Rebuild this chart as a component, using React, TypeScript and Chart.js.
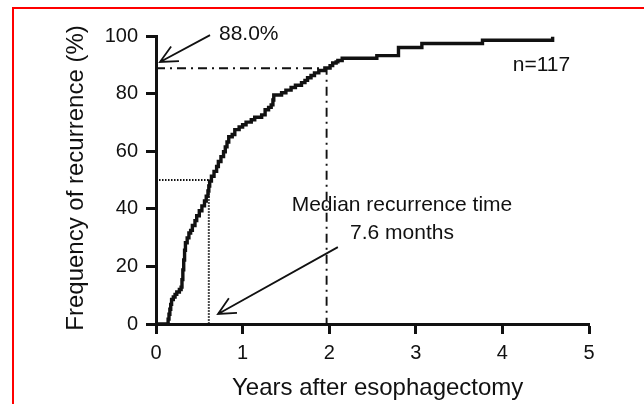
import React, { useEffect, useRef } from "react";
import { Chart, registerables } from "chart.js";

Chart.register(...registerables);

// Cumulative recurrence curve (years after surgery, % recurred)
const years = [
  0, 0.13, 0.14, 0.15, 0.16, 0.17, 0.18, 0.2, 0.22, 0.24, 0.27, 0.29, 0.3, 0.31, 0.32, 0.33, 0.34,
  0.36, 0.38, 0.4, 0.42, 0.45, 0.47, 0.5, 0.53, 0.56, 0.58, 0.6, 0.61, 0.62, 0.64, 0.67, 0.7, 0.72,
  0.75, 0.78, 0.8, 0.82, 0.84, 0.88, 0.91, 0.96, 1.0, 1.04, 1.1, 1.14, 1.22, 1.26, 1.3, 1.33, 1.35,
  1.36, 1.45, 1.5, 1.56, 1.61, 1.68, 1.72, 1.75, 1.79, 1.83, 1.88, 1.95, 2.01, 2.04, 2.08, 2.1, 2.15,
  2.55, 2.8, 3.07, 3.77, 4.58,
];
const recurrencePct = [
  0, 0, 1.7, 3.4, 5.1, 6.8, 8.5, 9.4, 10.3, 11.1, 12.0, 12.8, 15.4, 18.8, 22.2, 25.6, 28.2,
  29.9, 31.6, 32.5, 34.2, 35.9, 37.6, 39.3, 41.0, 42.7, 44.4, 46.2, 47.9, 49.6, 51.3, 53.0, 54.7, 56.4,
  58.1, 59.8, 61.5, 63.2, 65.0, 65.8, 67.5, 68.4, 69.2, 70.1, 70.9, 71.8, 72.6, 74.4, 75.2, 76.1, 77.8,
  79.5, 80.3, 81.2, 82.1, 82.9, 83.8, 84.6, 85.5, 86.3, 87.2, 88.0, 88.9, 89.7, 90.6, 91.0, 91.5, 92.3,
  93.2, 96.0, 97.4, 98.5, 99.7,
];

const xTicks = [0, 1, 2, 3, 4, 5];
const yTicks = [0, 20, 40, 60, 80, 100];

// Reference guide lines
const plateauPct = 88.8;
const plateauYear = 1.97;
const medianPct = 50;
const medianYear = 0.61;

const xTitle = "Years after esophagectomy";
const yTitle = "Frequency of recurrence (%)";
const plateauLabel = "88.0%";
const nLabel = "n=117";
const medianLabel1 = "Median recurrence time";
const medianLabel2 = "7.6 months";

const FONT = "'Liberation Sans', Arial, Helvetica, sans-serif";
const INK = "#111111";

function drawArrow(ctx: CanvasRenderingContext2D, x1: number, y1: number, x2: number, y2: number) {
  const ang = Math.atan2(y1 - y2, x1 - x2);
  const len = 19;
  const spread = (26 * Math.PI) / 180;
  ctx.beginPath();
  ctx.moveTo(x1, y1);
  ctx.lineTo(x2, y2);
  ctx.moveTo(x2 + len * Math.cos(ang + spread), y2 + len * Math.sin(ang + spread));
  ctx.lineTo(x2, y2);
  ctx.lineTo(x2 + len * Math.cos(ang - spread), y2 + len * Math.sin(ang - spread));
  ctx.stroke();
}

const annotationPlugin = {
  id: "annotations",
  beforeDraw(chart: any) {
    const ctx = chart.ctx as CanvasRenderingContext2D;
    ctx.save();
    ctx.strokeStyle = "#ff0000";
    ctx.lineWidth = 2;
    ctx.beginPath();
    ctx.moveTo(13, chart.height);
    ctx.lineTo(13, 8);
    ctx.lineTo(chart.width, 8);
    ctx.stroke();
    ctx.restore();
  },
  afterDraw(chart: any) {
    const ctx = chart.ctx as CanvasRenderingContext2D;
    const xs = chart.scales.x;
    const ys = chart.scales.y;
    const px = (v: number) => xs.getPixelForValue(v);
    const py = (v: number) => ys.getPixelForValue(v);
    ctx.save();
    ctx.fillStyle = INK;
    ctx.strokeStyle = INK;

    // axis titles
    ctx.font = `24px ${FONT}`;
    ctx.textAlign = "center";
    ctx.textBaseline = "middle";
    ctx.fillText(xTitle, px(2.56), 388.5);
    ctx.save();
    ctx.translate(76.5, py(50.7));
    ctx.rotate(-Math.PI / 2);
    ctx.fillText(yTitle, 0, 0);
    ctx.restore();

    // annotations
    ctx.font = `21px ${FONT}`;
    ctx.textBaseline = "alphabetic";
    ctx.textAlign = "left";
    ctx.fillText(plateauLabel, px(0.727), py(98.6));
    ctx.fillText(nLabel, px(4.12), py(87.8));
    ctx.textAlign = "center";
    ctx.fillText(medianLabel1, px(2.84), py(39.2));
    ctx.fillText(medianLabel2, px(2.84), py(29.5));
    ctx.lineWidth = 1.8;
    drawArrow(ctx, px(0.624), py(100.3), px(0.046), py(91.0));
    drawArrow(ctx, px(2.1), py(26.7), px(0.716), py(3.5));
    ctx.restore();
  },
};

export default function App() {
  const canvasRef = useRef<HTMLCanvasElement | null>(null);

  useEffect(() => {
    if (!canvasRef.current) return;
    Chart.defaults.font.family = FONT;
    Chart.defaults.color = INK;

    const curve = years.map((x, i) => ({ x, y: recurrencePct[i] }));
    const plateauLine = [
      { x: 0, y: plateauPct },
      { x: plateauYear, y: plateauPct },
      { x: plateauYear, y: 0 },
    ];
    const medianLine = [
      { x: 0, y: medianPct },
      { x: medianYear, y: medianPct },
      { x: medianYear, y: 0 },
    ];

    const chart = new Chart(canvasRef.current, {
      type: "line",
      data: {
        datasets: [
          {
            data: plateauLine,
            borderColor: INK,
            borderWidth: 1.9,
            borderDash: [9, 5, 2, 5],
            pointRadius: 0,
            tension: 0,
            clip: false as any,
          },
          {
            data: medianLine,
            borderColor: INK,
            borderWidth: 2,
            borderDash: [1.5, 1.5],
            pointRadius: 0,
            tension: 0,
            clip: false as any,
          },
          {
            data: curve,
            borderColor: INK,
            borderWidth: 3.4,
            stepped: true,
            pointRadius: 0,
            borderJoinStyle: "miter",
            clip: false as any,
          },
        ],
      },
      options: {
        animation: false,
        responsive: false,
        events: [],
        layout: { padding: { left: 0, top: 36, right: 55, bottom: 0 } },
        plugins: { legend: { display: false }, tooltip: { enabled: false } },
        scales: {
          x: {
            type: "linear",
            min: 0,
            max: 5,
            afterBuildTicks: (s: any) => {
              s.ticks = xTicks.map((v) => ({ value: v }));
            },
            afterFit: (s: any) => {
              s.height = 80;
            },
            grid: {
              drawOnChartArea: false,
              drawTicks: true,
              tickLength: 10,
              tickWidth: 3,
              tickColor: INK,
            },
            border: { display: true, color: INK, width: 3 },
            ticks: { font: { size: 20 }, color: INK, padding: 7, maxRotation: 0 },
            title: { display: false },
          },
          y: {
            type: "linear",
            min: 0,
            max: 100,
            afterBuildTicks: (s: any) => {
              s.ticks = yTicks.map((v) => ({ value: v }));
            },
            afterFit: (s: any) => {
              s.width = 156;
            },
            grid: {
              drawOnChartArea: false,
              drawTicks: true,
              tickLength: 10,
              tickWidth: 3,
              tickColor: INK,
            },
            border: { display: true, color: INK, width: 3 },
            ticks: { font: { size: 20 }, color: INK, padding: 8 },
            title: { display: false },
          },
        },
      },
      plugins: [annotationPlugin],
    });

    return () => chart.destroy();
  }, []);

  return (
    <div style={{ position: "fixed", left: 0, top: 0, width: 644, height: 404, background: "#fff" }}>
      <canvas ref={canvasRef} width={644} height={404} />
    </div>
  );
}
